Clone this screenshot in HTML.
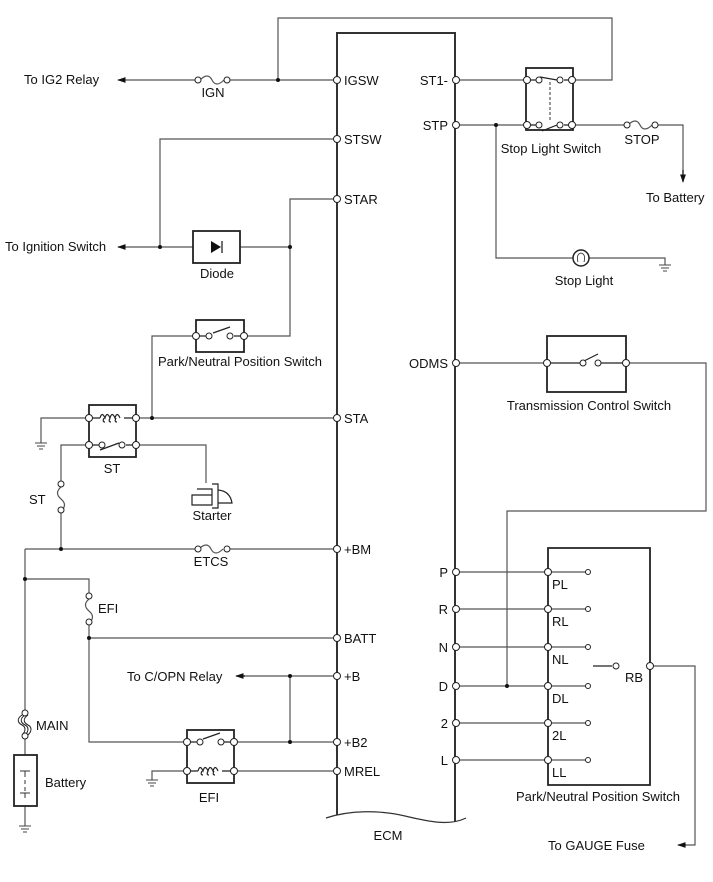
<!DOCTYPE html>
<html><head><meta charset="utf-8"><style>
html,body{margin:0;padding:0;background:#fff;}
svg{display:block;}
text{font-family:"Liberation Sans",Arial,sans-serif;font-size:13px;fill:#111;}
</style></head><body>
<svg width="713" height="882" viewBox="0 0 713 882" xmlns="http://www.w3.org/2000/svg">
<defs>
<marker id="ar" viewBox="0 0 10 10" refX="9" refY="5" markerWidth="7" markerHeight="7" orient="auto-start-reverse"><path d="M0,1.5 L10,5 L0,8.5 z" fill="#111"/></marker>
</defs>
<g fill="none" stroke="#555" stroke-width="1.2">
<!-- top loop -->
<path d="M278,80 V18 H612 V80 H572"/>
<!-- IGSW -->
<path d="M120,80 H196 M228,80 H337" />
<path d="M200,80 q8,-8 12,0 q4,8 12,0" />
<!-- STSW -->
<path d="M337,139 H160 V247"/>
<!-- ignition -->
<path d="M120,247 H193 M240,247 H290 V199 H337"/>
<path d="M290,247 V336 H244 M196,336 H152 V417"/>
<!-- STA -->
<path d="M136,418 H337"/>
<path d="M89,418 H41 V443"/>
<path d="M89,445 H61 V483 M61,510 V549"/>
<path d="M61,487 q-7,6 0,12 q7,6 0,12" />
<path d="M136,445 H206 V483"/>
<!-- +BM -->
<path d="M25,549 H195 M228,549 H337"/>
<path d="M199,549 q8,-8 12,0 q4,8 12,0"/>
<path d="M25,549 V715 M25,738 V755 M25,806 V826"/>
<path d="M25,579 H89 V595 M89,622 V638 H337"/>
<path d="M89,599 q-7,6 0,12 q7,6 0,12"/>
<path d="M89,638 V742 H187 M234,742 H337"/>
<path d="M290,742 V676 M337,676 H240"/>
<path d="M234,771 H337 M187,771 H152 V780"/>
<!-- right side -->
<path d="M457,80 H527 M457,125 H527 M572,125 H624 M656,125 H683 V178"/>
<path d="M628,125 q8,-8 12,0 q4,8 12,0"/>
<path d="M496,125 V258 H573 M589,258 H665 V265"/>
<path d="M457,363 H547 M626,363 H706 V511 H507 V686"/>
<path d="M457,572 H548 M457,609 H548 M457,647 H548 M457,686 H548 M457,723 H548 M457,760 H548"/>
<path d="M548,572 H586 M548,609 H586 M548,647 H586 M548,686 H586 M548,723 H586 M548,760 H586"/>
<path d="M650,666 H695 V845 H683"/>
</g>
<!-- arrows -->
<g stroke="#111" stroke-width="1.2" fill="none">
<path d="M125,80 H118" marker-end="url(#ar)"/>
<path d="M125,247 H118" marker-end="url(#ar)"/>
<path d="M245,676 H236" marker-end="url(#ar)"/>
<path d="M683,170 V182" marker-end="url(#ar)"/>
<path d="M686,845 H678" marker-end="url(#ar)"/>
</g>
<!-- ECM -->
<g fill="none" stroke="#333" stroke-width="2">
<path d="M337,815 V33 H455 V822"/>
</g>
<path d="M326,818 C350,810 380,810 405,816 S450,826 466,818" fill="none" stroke="#333" stroke-width="1.2"/>
<!-- boxes -->
<g fill="none" stroke="#222" stroke-width="1.8">
<rect x="193" y="231" width="47" height="32"/>
<rect x="196" y="320" width="48" height="32"/>
<rect x="89" y="405" width="47" height="52"/>
<rect x="187" y="730" width="47" height="53"/>
<rect x="14" y="755" width="23" height="51"/>
<rect x="526" y="68" width="47" height="62"/>
<rect x="547" y="336" width="79" height="56"/>
<path d="M548,572 V785 H650 V548 H548 V572"/>
</g>
<!-- diode -->
<path d="M211,241 L221,247 L211,253 z" fill="#111"/><path d="M222,241 V253" stroke="#111" stroke-width="1.2"/>
<!-- switches -->
<g fill="none" stroke="#222" stroke-width="1.2">
<path d="M196,336 H206 M234,336 H244 M213,333 L230,327"/>
<path d="M89,445 H99 M126,445 H136 M100,450 L119,443"/>
<path d="M89,418 H100 M124,418 H136 M100,418 q2,-7 5,0 q2,-7 5,0 q2,-7 5,0 q2,-7 5,0 M104,418 q-2,4 1,4 M110,418 q-2,4 1,4 M116,418 q-2,4 1,4"/>
<path d="M187,742 H197 M224,742 H234 M203,739 L220,733"/>
<path d="M187,771 H198 M222,771 H234 M198,771 q2,-7 5,0 q2,-7 5,0 q2,-7 5,0 q2,-7 5,0 M202,771 q-2,4 1,4 M208,771 q-2,4 1,4 M214,771 q-2,4 1,4"/>
<path d="M527,80 H536 M564,80 H572 M540,77 L557,80 M527,125 H536 M564,125 H572 M542,131 L557,125"/>
<path d="M550,82 V122" stroke-dasharray="3,2" stroke="#555"/>
<path d="M547,363 H580 M601,363 H626 M584,361 L598,354"/>
<path d="M593,666 H612"/>
</g>
<!-- MAIN fuse -->
<path d="M25,715 c-6,4 -4,8 0,10 c4,2 4,6 0,10 M22,715 c-6,4 -4,8 0,10 c4,2 4,6 0,10 M28,715 c-6,4 -4,8 0,10 c4,2 4,6 0,10" fill="none" stroke="#222" stroke-width="1"/>
<!-- battery cells -->
<g stroke="#333" stroke-width="1" fill="none"><path d="M20,771 H30 M25,771 V777 M25,780 V784 M25,787 V791 M20,793 H30 M25,793 V798"/></g>
<!-- starter -->
<g fill="none" stroke="#222" stroke-width="1.2"><path d="M192,495 H212 V505 H192 z M197,489 H212 V495 M212,484 H218 V508 H212 M218,490 Q230,491 232,503 H218"/></g>
<!-- stop light -->
<circle cx="581" cy="258" r="8" fill="none" stroke="#222" stroke-width="1.5"/>
<path d="M578,262 Q576,254 581,253 Q586,254 584,262" fill="none" stroke="#222" stroke-width="0.8"/>
<!-- grounds -->
<g stroke="#444" stroke-width="1" fill="none">
<path d="M35,443 H47 M37,446 H45 M39,449 H43"/>
<path d="M146,780 H158 M148,783 H156 M150,786 H154"/>
<path d="M19,826 H31 M21,829 H29 M23,832 H27"/>
<path d="M659,265 H671 M661,268 H669 M663,271 H667"/>
</g>
<!-- dots -->
<g fill="#111">
<circle cx="278" cy="80" r="2"/><circle cx="160" cy="247" r="2"/><circle cx="290" cy="247" r="2"/>
<circle cx="152" cy="418" r="2"/><circle cx="61" cy="549" r="2"/><circle cx="25" cy="579" r="2"/>
<circle cx="89" cy="638" r="2"/><circle cx="290" cy="676" r="2"/><circle cx="290" cy="742" r="2"/>
<circle cx="496" cy="125" r="2"/><circle cx="507" cy="686" r="2"/>
</g>
<!-- terminals -->
<g fill="#fff" stroke="#222" stroke-width="1">
<circle cx="337" cy="80" r="3.5"/><circle cx="337" cy="139" r="3.5"/><circle cx="337" cy="199" r="3.5"/>
<circle cx="337" cy="418" r="3.5"/><circle cx="337" cy="549" r="3.5"/><circle cx="337" cy="638" r="3.5"/>
<circle cx="337" cy="676" r="3.5"/><circle cx="337" cy="742" r="3.5"/><circle cx="337" cy="771" r="3.5"/>
<circle cx="456" cy="80" r="3.5"/><circle cx="456" cy="125" r="3.5"/><circle cx="456" cy="363" r="3.5"/>
<circle cx="456" cy="572" r="3.5"/><circle cx="456" cy="609" r="3.5"/><circle cx="456" cy="647" r="3.5"/>
<circle cx="456" cy="686" r="3.5"/><circle cx="456" cy="723" r="3.5"/><circle cx="456" cy="760" r="3.5"/>
<circle cx="198" cy="80" r="3"/><circle cx="227" cy="80" r="3"/>
<circle cx="198" cy="549" r="3"/><circle cx="227" cy="549" r="3"/>
<circle cx="627" cy="125" r="3"/><circle cx="655" cy="125" r="3"/>
<circle cx="61" cy="484" r="3"/><circle cx="61" cy="510" r="3"/>
<circle cx="89" cy="596" r="3"/><circle cx="89" cy="622" r="3"/>
<circle cx="25" cy="713" r="3"/><circle cx="25" cy="736" r="3"/>
<circle cx="196" cy="336" r="3.5"/><circle cx="244" cy="336" r="3.5"/><circle cx="209" cy="336" r="3"/><circle cx="230" cy="336" r="3"/>
<circle cx="89" cy="418" r="3.5"/><circle cx="136" cy="418" r="3.5"/><circle cx="89" cy="445" r="3.5"/><circle cx="136" cy="445" r="3.5"/>
<circle cx="102" cy="445" r="3"/><circle cx="122" cy="445" r="3"/>
<circle cx="187" cy="742" r="3.5"/><circle cx="234" cy="742" r="3.5"/><circle cx="187" cy="771" r="3.5"/><circle cx="234" cy="771" r="3.5"/>
<circle cx="200" cy="742" r="3"/><circle cx="221" cy="742" r="3"/>
<circle cx="527" cy="80" r="3.5"/><circle cx="572" cy="80" r="3.5"/><circle cx="527" cy="125" r="3.5"/><circle cx="572" cy="125" r="3.5"/>
<circle cx="539" cy="80" r="3"/><circle cx="560" cy="80" r="3"/><circle cx="539" cy="125" r="3"/><circle cx="560" cy="125" r="3"/>
<circle cx="547" cy="363" r="3.5"/><circle cx="626" cy="363" r="3.5"/><circle cx="583" cy="363" r="3"/><circle cx="598" cy="363" r="3"/>
<circle cx="548" cy="572" r="3.5"/><circle cx="548" cy="609" r="3.5"/><circle cx="548" cy="647" r="3.5"/>
<circle cx="548" cy="686" r="3.5"/><circle cx="548" cy="723" r="3.5"/><circle cx="548" cy="760" r="3.5"/>
<circle cx="588" cy="572" r="2.5"/><circle cx="588" cy="609" r="2.5"/><circle cx="588" cy="647" r="2.5"/>
<circle cx="588" cy="686" r="2.5"/><circle cx="588" cy="723" r="2.5"/><circle cx="588" cy="760" r="2.5"/>
<circle cx="616" cy="666" r="3"/><circle cx="650" cy="666" r="3.5"/>
</g>
<!-- labels -->
<text x="24" y="84">To IG2 Relay</text>
<text x="213" y="97" text-anchor="middle">IGN</text>
<text x="5" y="251">To Ignition Switch</text>
<text x="217" y="278" text-anchor="middle">Diode</text>
<text x="240" y="366" text-anchor="middle">Park/Neutral Position Switch</text>
<text x="112" y="473" text-anchor="middle">ST</text>
<text x="29" y="504">ST</text>
<text x="212" y="520" text-anchor="middle">Starter</text>
<text x="211" y="566" text-anchor="middle">ETCS</text>
<text x="98" y="613">EFI</text>
<text x="127" y="681">To C/OPN Relay</text>
<text x="36" y="730">MAIN</text>
<text x="45" y="787">Battery</text>
<text x="209" y="802" text-anchor="middle">EFI</text>
<text x="344" y="85">IGSW</text>
<text x="344" y="144">STSW</text>
<text x="344" y="204">STAR</text>
<text x="344" y="423">STA</text>
<text x="344" y="554">+BM</text>
<text x="344" y="643">BATT</text>
<text x="344" y="681">+B</text>
<text x="344" y="747">+B2</text>
<text x="344" y="776">MREL</text>
<text x="388" y="840" text-anchor="middle">ECM</text>
<text x="448" y="85" text-anchor="end">ST1-</text>
<text x="448" y="130" text-anchor="end">STP</text>
<text x="448" y="368" text-anchor="end">ODMS</text>
<text x="448" y="577" text-anchor="end">P</text>
<text x="448" y="614" text-anchor="end">R</text>
<text x="448" y="652" text-anchor="end">N</text>
<text x="448" y="691" text-anchor="end">D</text>
<text x="448" y="728" text-anchor="end">2</text>
<text x="448" y="765" text-anchor="end">L</text>
<text x="551" y="153" text-anchor="middle">Stop Light Switch</text>
<text x="642" y="144" text-anchor="middle">STOP</text>
<text x="646" y="202">To Battery</text>
<text x="584" y="285" text-anchor="middle">Stop Light</text>
<text x="589" y="410" text-anchor="middle">Transmission Control Switch</text>
<text x="552" y="589">PL</text>
<text x="552" y="626">RL</text>
<text x="552" y="664">NL</text>
<text x="552" y="703">DL</text>
<text x="552" y="740">2L</text>
<text x="552" y="777">LL</text>
<text x="625" y="682">RB</text>
<text x="598" y="801" text-anchor="middle">Park/Neutral Position Switch</text>
<text x="548" y="850">To GAUGE Fuse</text>
</svg>
</body></html>
